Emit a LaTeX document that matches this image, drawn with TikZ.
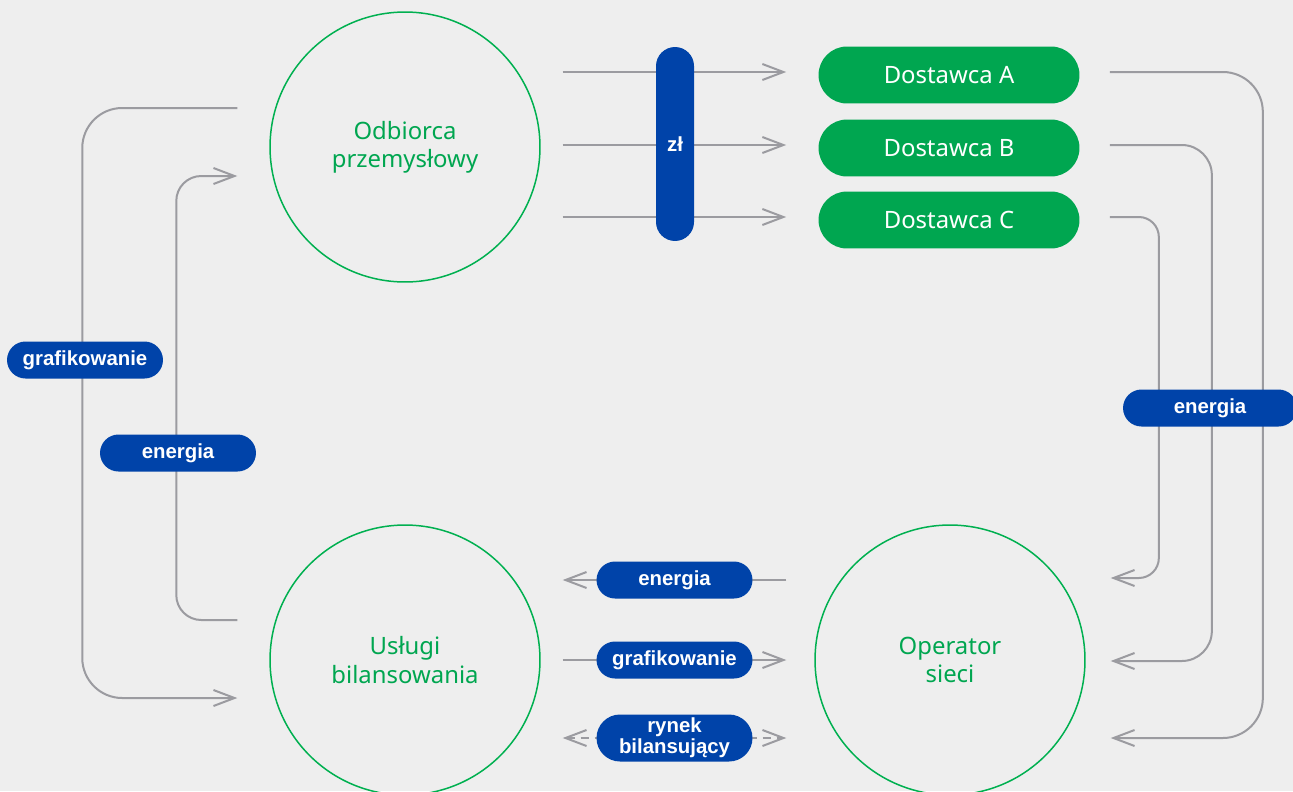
\documentclass[tikz,border=0pt]{standalone}
\usepackage{fontspec}
\setmainfont{Noto Sans}
\newfontfamily\tagfont{Liberation Sans}
\usetikzlibrary{calc,arrows.meta}

\definecolor{bgGray}{HTML}{EEEEEE}
\definecolor{lineGray}{HTML}{9B9BA0}
\definecolor{hubGreen}{HTML}{00B050}
\definecolor{boxGreen}{HTML}{00A650}
\definecolor{tagBlue}{HTML}{0043A9}

\tikzset{
    hub/.style={circle, draw=hubGreen, line width=0.03cm, minimum size=5.4cm,
        text=boxGreen, align=center, font=\fontsize{13.6}{16}\selectfont},
    supplier/.style={rectangle, rounded corners=0.57cm, fill=boxGreen, text=white,
        minimum width=5.22cm, minimum height=1.14cm, font=\fontsize{13.6}{16}\selectfont},
    tag/.style={rectangle, rounded corners=0.37cm, fill=tagBlue, text=white,
        minimum width=3.12cm, minimum height=0.74cm, inner sep=0pt, align=center,
        font=\tagfont\bfseries\fontsize{11.6}{9.8}\selectfont},
    flow/.style={draw=lineGray, line width=0.04cm, -{Straight Barb[length=0.42cm,width=0.32cm]}},
}

\begin{document}
\begin{tikzpicture}[x=0.02cm, y=-0.02cm]

    \fill[bgGray] (0,0) rectangle (1293,791);
    \useasboundingbox (0,0) rectangle (1293,791);

    % circles
    \node[hub] (odb) at (405,147) {Odbiorca\\przemysłowy};
    \node[hub] (usl) at (405,660) {Usługi\\bilansowania};
    \node[hub] (oper) at (950,660) {Operator\\sieci};

    % suppliers
    \foreach \n/\y in {A/75,B/148,C/220} {
        \node[supplier] (dost\n) at (949,\y) {Dostawca \n};
        \draw[flow] ($(odb.east |- dost\n)+(22,-3)$) -- ($(dost\n.west)+(-32,-3)$);
    }
    \node[tag, minimum width=0.76cm, minimum height=3.88cm, rounded corners=0.38cm] (zl) at (675,144) {zł};

    % energy to the grid operator
    \foreach \n/\dx/\dy/\r in {A/153/78/0.8cm, B/102/1/0.6cm, C/49/-82/0.4cm} {
        \draw[flow, rounded corners=\r] ($(dost\n.east)+(30,-3)$) -- ++(\dx,0) |- ($(oper.east)+(25,\dy)$);
    }
    \node[tag, minimum width=3.48cm] (enR) at (1210,408) {energia};

    % left side
    \draw[flow, rounded corners=0.8cm] ($(odb.west)+(-32,-39)$) -- ++(-155,0) |- ($(usl.west)+(-32,38)$);
    \draw[flow, rounded corners=0.5cm] ($(usl.west)+(-32,-40)$) -- ++(-61,0) |- ($(odb.west)+(-32,29)$);
    \node[tag] (grafL) at (85,360) {grafikowanie};
    \node[tag] (enL) at (178,453) {energia};

    % bottom
    \draw[flow] ($(oper.west)+(-28,-80)$) -- node[tag] (enB) {energia} ($(usl.east)+(22,-80)$);
    \draw[flow] ($(usl.east)+(22,0)$) -- node[tag] (grafB) {grafikowanie} ($(oper.west)+(-28,0)$);
    \draw[flow, {Straight Barb[length=0.42cm,width=0.32cm]}-{Straight Barb[length=0.42cm,width=0.32cm]},
        dash pattern=on 0.16cm off 0.12cm] ($(usl.east)+(22,78)$)
        -- node[tag, minimum height=0.94cm, rounded corners=0.47cm] (rynek) {rynek\\bilansujący} ($(oper.west)+(-28,78)$);

\end{tikzpicture}
\end{document}
